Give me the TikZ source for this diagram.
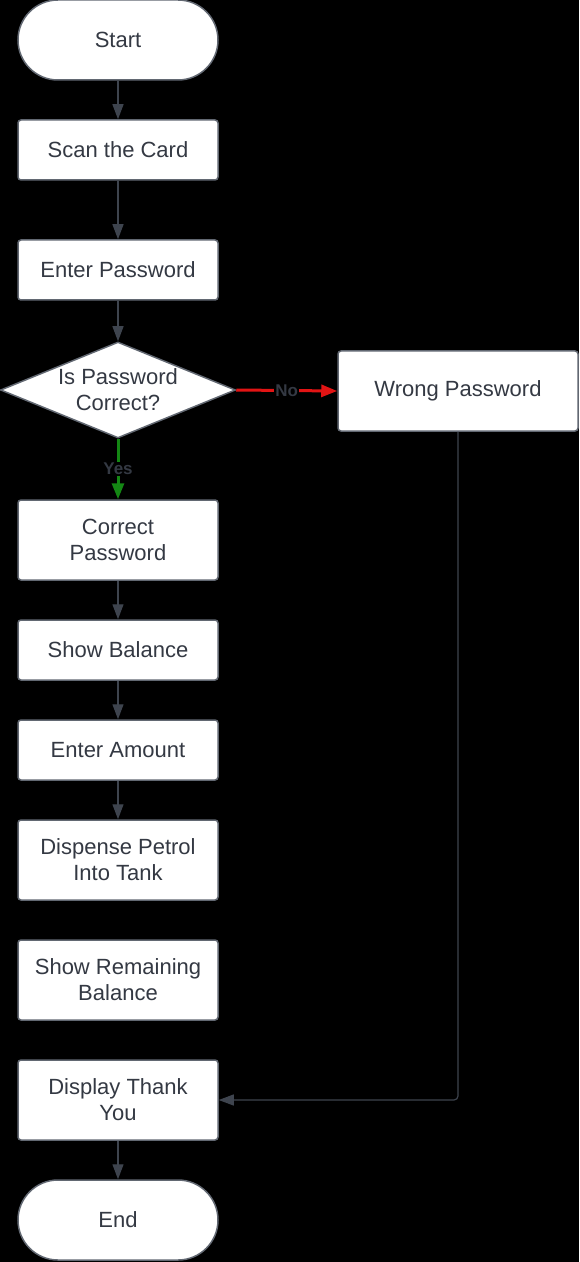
\documentclass[tikz,border=0pt]{standalone}
\usepackage{fontspec}
\setmainfont{Liberation Sans}
\usepackage{tikz}
\usetikzlibrary{shapes.geometric,arrows.meta,positioning}

\definecolor{boxline}{RGB}{98,104,114}
\definecolor{flowline}{RGB}{62,68,78}
\definecolor{txt}{RGB}{52,57,67}
\definecolor{noline}{RGB}{226,20,20}
\definecolor{yesline}{RGB}{20,135,20}

\tikzset{
    proc/.style={draw=boxline, fill=white, line width=0.75pt, rounded corners=1.5pt,
        minimum width=100pt, align=center, text=txt},
    term/.style={proc, minimum height=40pt, rounded corners=20pt},
    decide/.style={diamond, draw=boxline, fill=white, line width=0.75pt, align=center,
        text=txt, minimum width=117.5pt, minimum height=48pt, inner sep=0pt, shape aspect=2.45},
    flow/.style={draw=flowline, line width=0.6pt, -{Triangle[length=7.5pt,width=5.5pt]}},
    lbl/.style={font=\fontsize{8.5}{10}\selectfont\bfseries, text=txt, fill=black, inner sep=0.5pt}
}

\begin{document}
\begin{tikzpicture}[x=0.5pt, y=-0.5pt, font=\fontsize{11}{13}\selectfont]
        \fill[black] (0,0) rectangle (579,1262);
        \useasboundingbox (0,0) rectangle (579,1262);
        % main column
        \node[term] (start) at (118,40) {Start};
        \node[proc, minimum height=30pt] (scan) at (118,150) {Scan the Card};
        \node[proc, minimum height=30pt] (pass) at (118,270) {Enter Password};
        \node[decide] (check) at (118,390) {Is Password\\Correct?};
        \node[proc, minimum height=40pt, minimum width=120pt] (wrong) at (458,391) {Wrong Password};
        \node[proc, minimum height=40pt] (correct) at (118,540) {Correct\\Password};
        \node[proc, minimum height=30pt] (balance) at (118,650) {Show Balance};
        \node[proc, minimum height=30pt] (amount) at (118,750) {Enter Amount};
        \node[proc, minimum height=40pt] (petrol) at (118,860) {Dispense Petrol\\Into Tank};
        \node[proc, minimum height=40pt] (remain) at (118,980) {Show Remaining\\Balance};
        \node[proc, minimum height=40pt] (thanks) at (118,1100) {Display Thank\\You};
        \node[term] (end) at (118,1220) {End};
        % arrows
        \draw[flow] (start) -- (scan);
        \draw[flow] (scan) -- (pass);
        \draw[flow] (pass) -- (check);
        \draw[flow, draw=noline, line width=1.5pt, -{Triangle[length=8pt,width=6pt]}]
            (check.east) -- node[lbl] {No} (wrong.west);
        \draw[flow, draw=yesline, line width=1.5pt, -{Triangle[length=8pt,width=6pt]}]
            (check.south) -- node[lbl] {Yes} (correct.north);
        \draw[flow] (correct) -- (balance);
        \draw[flow] (balance) -- (amount);
        \draw[flow] (amount) -- (petrol);
        \draw[flow] (thanks) -- (end);
        % wrong password goes to the end
        \draw[flow, rounded corners=2pt] (wrong.south) |- (thanks.east);
    \end{tikzpicture}
\end{document}
